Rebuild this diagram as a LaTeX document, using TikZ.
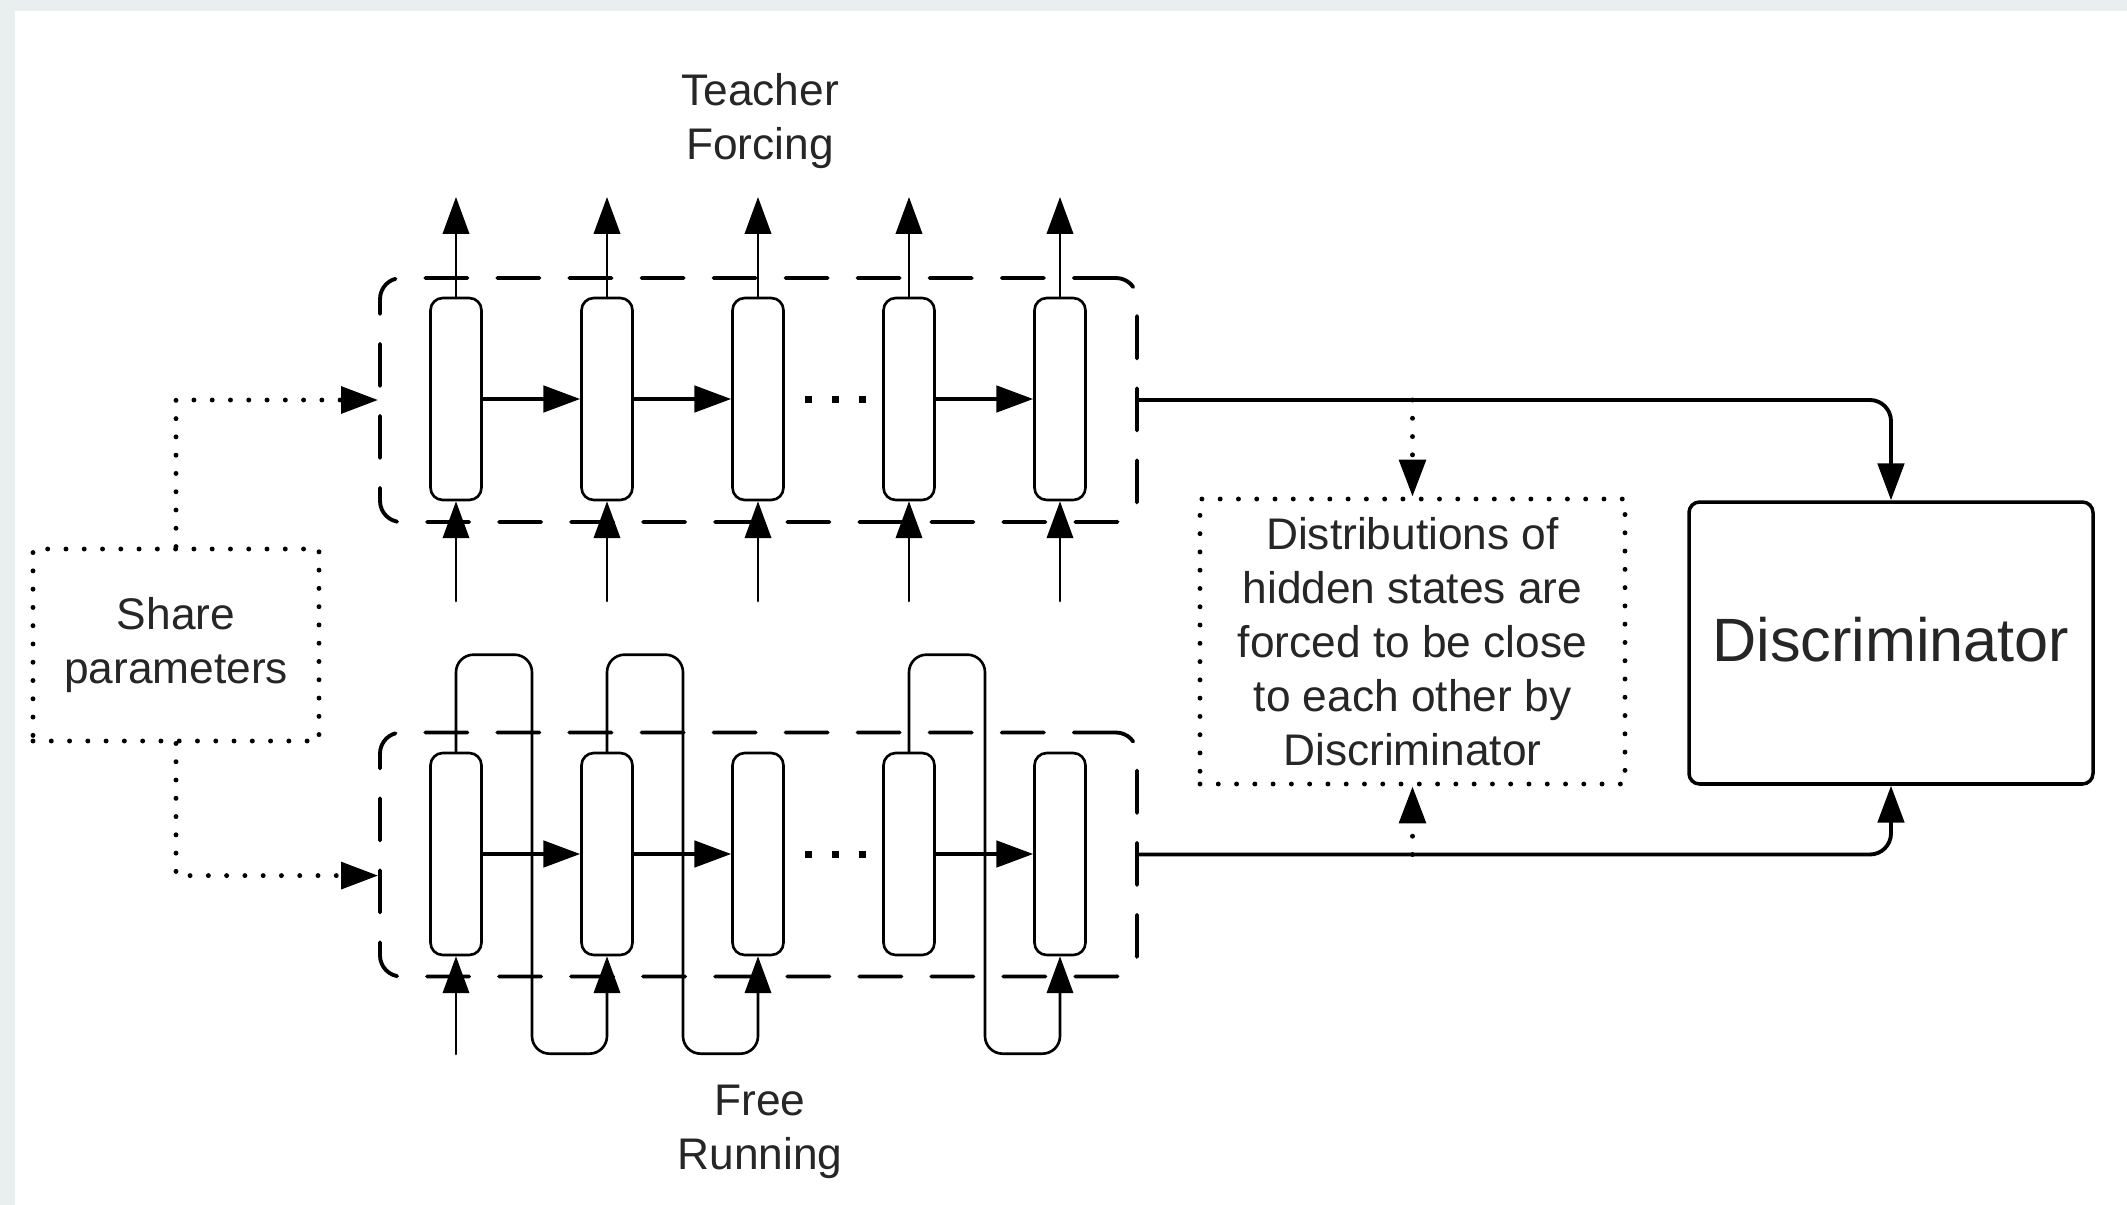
\documentclass[tikz,border=0pt]{standalone}
\usepackage{fontspec}
\setmainfont{Liberation Sans}
\usepackage{tikz}
\usetikzlibrary{arrows.meta,positioning}

\definecolor{framegray}{HTML}{E9EEEE}

\begin{document}
\begin{tikzpicture}[line cap=round,line join=round,>={Triangle[length=10.5pt,width=7.5pt]},x=0.1mm,y=-0.1mm,
  cell/.style={draw,rounded corners=3.5pt,line width=0.75pt,minimum width=5.1mm,minimum height=20.2mm,inner sep=0pt,fill=white},
  group/.style={draw,dash pattern=on 12pt off 8.5pt,rounded corners=6pt,line width=1.1pt,minimum width=75.7mm,minimum height=24.4mm,inner sep=0pt},
  note/.style={draw,dash pattern=on 0pt off 5.2pt,line width=1.4pt,inner sep=0pt,align=center,font=\fontsize{12.6}{15.4}\selectfont,text=black!85},
  dotline/.style={dash pattern=on 0pt off 5.2pt,line width=1.4pt},
  heading/.style={align=center,font=\fontsize{12.6}{15.4}\selectfont,text=black!85},
  disc/.style={draw,rounded corners=3pt,line width=1pt,minimum width=40.4mm,minimum height=28.2mm,inner sep=0pt,font=\fontsize{17.4}{20}\selectfont,text=black!85}]

% cell spacing
\def\xa{456} % first cell
\def\dx{151} % cell to cell
\def\ytop{399} % teacher forcing row
\def\ybot{854} % free running row

% page frame
\fill[framegray] (0,0) rectangle (2127,1205);
\fill[white] (15,11) rectangle (2127,1205);
\useasboundingbox (0,0) rectangle (2127,1205);

% dashed groups
\node[group] (tbox) at (758.5,400) {};
\node[group] (fbox) at (758.5,854.5) {};

% rnn cells
\foreach \i in {1,...,5}{
  \node[cell] (t\i) at ({\xa+(\i-1)*\dx},\ytop) {};
  \node[cell] (f\i) at ({\xa+(\i-1)*\dx},\ybot) {};
  \coordinate (tout\i) at ({\xa+(\i-1)*\dx},197);
  \coordinate (tin\i) at ({\xa+(\i-1)*\dx},601);
}
\coordinate (fin) at (\xa,1054);

% teacher forcing inputs and outputs
\foreach \i in {1,...,5}{
  \draw[->,line width=0.75pt] (t\i) -- (tout\i);
  \draw[->,line width=0.75pt] (tin\i) -- (t\i);
}

% hidden state arrows
\foreach \a/\b in {1/2,2/3,4/5}{
  \draw[->,line width=1.1pt] (t\a) -- (t\b);
  \draw[->,line width=1.1pt] (f\a) -- (f\b);
}
\foreach \k in {-1,0,1}{
  \fill ({835+\k*27},\ytop) +(-3.5,-3.5) rectangle +(3.5,3.5);
  \fill ({835+\k*27},\ybot) +(-3.5,-3.5) rectangle +(3.5,3.5);
}

% free running: output fed back as next input
\draw[->,line width=0.75pt] (fin) -- (f1);
\foreach \a/\b in {1/2,2/3,4/5}{
  \draw[->,line width=0.75pt,rounded corners=5pt] (f\a.north) -- ++(0,-97) -- ++(76,0) -- ++(0,399) -- ++(75,0) -- (f\b.south);
}

% labels
\node[heading] (teacher) at (760,121) {Teacher\\Forcing};
\node[heading] (free) at (760,1132) {Free\\Running};

% discriminator and note
\node[disc] (disc) at (1891,643) {\raisebox{2pt}{Discriminator}};
\node[note,minimum width=42.5mm,minimum height=28.5mm] (dist) at (1412.5,641.5) {Distributions of\\hidden states are\\forced to be close\\to each other by\\Discriminator};

\draw[->,line width=1.1pt,rounded corners=6pt] (tbox.east) -| (disc.north);
\draw[->,line width=1.1pt,rounded corners=6pt] (fbox.east) -| (disc.south);
\draw[->,dotline] (dist.north |- tbox.east) -- (dist.north);
\draw[->,dotline] (dist.south |- fbox.east) -- (dist.south);

% shared parameters
\node[note,minimum width=28.6mm,minimum height=19.2mm] (share) at (176,645) {Share\\parameters};
\draw[->,dotline] (share.north) |- (tbox.west);
\draw[->,dotline] (share.south) |- ([yshift=-6pt]fbox.west);

\end{tikzpicture}
\end{document}
